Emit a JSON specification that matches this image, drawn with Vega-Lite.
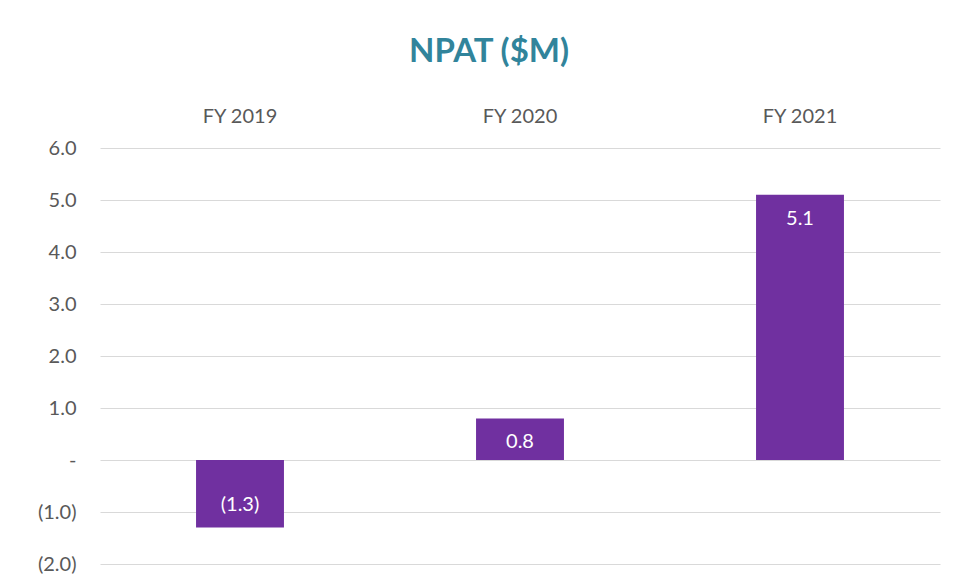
{
  "$schema": "https://vega.github.io/schema/vega-lite/v6.json",
  "autosize": "none",
  "width": 840,
  "height": 416,
  "padding": {"left": 100, "top": 148, "right": 17, "bottom": 22},
  "background": "white",
  "title": {
    "text": "NPAT ($M)",
    "font": "Lato",
    "fontSize": 33,
    "fontWeight": "bold",
    "color": "#31849B",
    "anchor": "middle",
    "dx": -31,
    "offset": 37
  },
  "config": {
    "view": {"stroke": null},
    "font": "Lato"
  },
  "data": {
    "values": [
      {"year": "FY 2019", "npat": -1.3, "label": "(1.3)"},
      {"year": "FY 2020", "npat": 0.8, "label": "0.8"},
      {"year": "FY 2021", "npat": 5.1, "label": "5.1"}
    ]
  },
  "encoding": {
    "x": {
      "field": "year",
      "type": "nominal",
      "sort": null,
      "title": null,
      "scale": {"paddingInner": 0.686, "paddingOuter": 0.343},
      "axis": {
        "orient": "top",
        "domain": false,
        "ticks": false,
        "labelAngle": 0,
        "labelFont": "Lato",
        "labelFontSize": 20,
        "labelColor": "#595959",
        "labelPadding": 22
      }
    },
    "y": {
      "field": "npat",
      "type": "quantitative",
      "title": null,
      "scale": {"domain": [-2, 6], "nice": false, "zero": false},
      "axis": {
        "values": [-2, -1, 0, 1, 2, 3, 4, 5, 6],
        "domain": false,
        "ticks": false,
        "grid": true,
        "gridColor": "#d9d9d9",
        "gridWidth": 1.2,
        "labelFont": "Lato",
        "labelFontSize": 20,
        "labelColor": "#595959",
        "labelPadding": 24,
        "labelExpr": "datum.value == 0 ? '-\u00a0\u00a0\u00a0' : (datum.value < 0 ? '(' + format(-datum.value, '.1f') + ')' : format(datum.value, '.1f') + '\u00a0\u00a0')"
      }
    }
  },
  "layer": [
    {
      "mark": {"type": "bar", "color": "#7030A0"}
    },
    {
      "transform": [{"filter": "datum.npat >= 0"}],
      "mark": {"type": "text", "color": "white", "font": "Lato", "fontSize": 20, "baseline": "middle", "dy": 24},
      "encoding": {"text": {"field": "label"}}
    },
    {
      "transform": [{"filter": "datum.npat < 0"}],
      "mark": {"type": "text", "color": "white", "font": "Lato", "fontSize": 20, "baseline": "middle", "dy": -23},
      "encoding": {"text": {"field": "label"}}
    }
  ]
}
